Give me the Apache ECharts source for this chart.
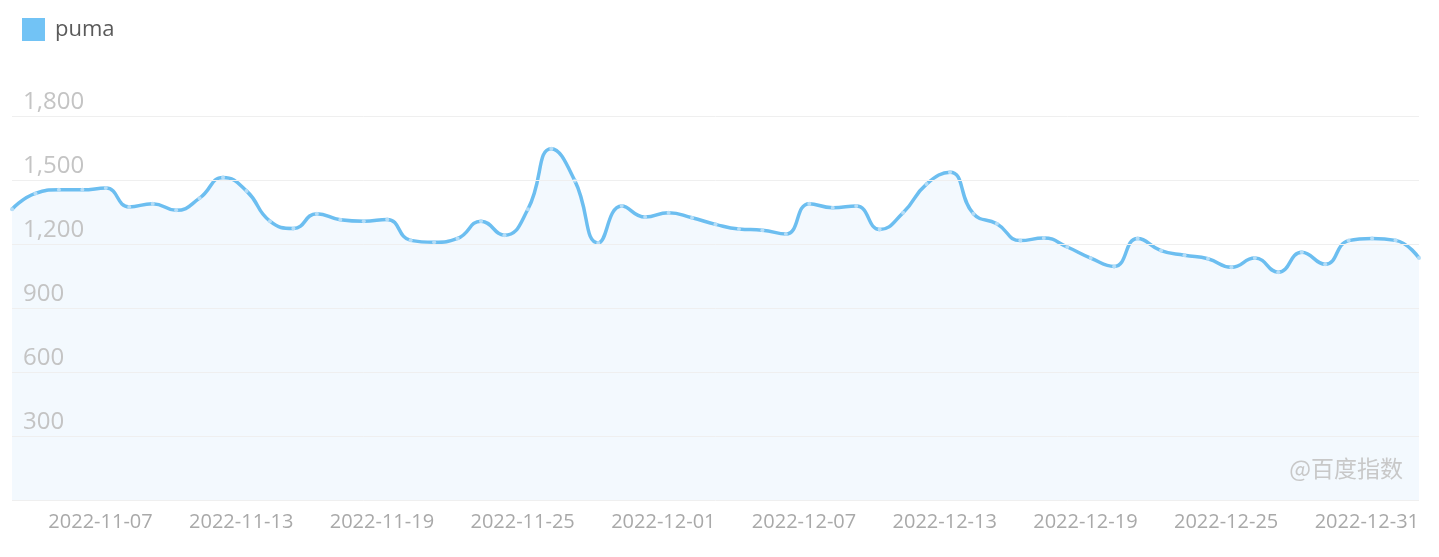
<!DOCTYPE html>
<html>
<head>
<meta charset="utf-8">
<script src="https://cdn.jsdelivr.net/npm/echarts@6/dist/echarts.min.js"></script>
<style>
html,body{margin:0;padding:0;background:#fff;}
#chart{width:1439px;height:557px;}
</style>
</head>
<body>
<div id="chart"></div>
<script>
// ---- data ----
const seriesName = 'puma';
const startDate = '2022-11-01';
const dayCount = 61;
const values = [
  1363, 1437, 1454, 1454, 1462, 1374, 1389, 1358, 1415, 1512,
  1449, 1307, 1273, 1342, 1314, 1307, 1315, 1217, 1208, 1226,
  1307, 1241, 1363, 1647, 1497, 1205, 1378, 1326, 1347, 1323,
  1292, 1270, 1265, 1247, 1389, 1370, 1378, 1268, 1347, 1481,
  1536, 1342, 1295, 1216, 1228, 1186, 1134, 1095, 1226, 1169,
  1147, 1131, 1091, 1134, 1068, 1161, 1105, 1216, 1226, 1217,
  1134
];
const yTicks = [0, 300, 600, 900, 1200, 1500, 1800];
const watermark = '@百度指数';

// build date categories
function pad(n){return n<10?'0'+n:''+n;}
const dates = [];
(function(){
  const d0 = new Date(startDate + 'T00:00:00Z');
  for (let i = 0; i < dayCount; i++) {
    const d = new Date(d0.getTime() + i*86400000);
    dates.push(d.getUTCFullYear()+'-'+pad(d.getUTCMonth()+1)+'-'+pad(d.getUTCDate()));
  }
})();

const chart = echarts.init(document.getElementById('chart'), null, {renderer:'canvas'});
const fontLatin = '"Open Sans","Noto Sans","Noto Sans CJK SC",sans-serif';
const showIdx = (i) => i > 0 && i % 6 === 0;

chart.setOption({
  animation: false,
  backgroundColor: '#ffffff',
  legend: {
    left: 22, top: 18, padding: 0,
    itemWidth: 23, itemHeight: 23, itemGap: 10,
    icon: 'rect',
    itemStyle: {borderWidth: 0, color: '#72c3f5'},
    textStyle: {fontSize: 22, color: '#5a5a5a', fontFamily: fontLatin, padding: [0, 0, 0, 5]},
    data: [seriesName]
  },
  grid: {left: 12, right: 20, top: 116, bottom: 57, containLabel: false},
  xAxis: {
    type: 'category',
    boundaryGap: false,
    data: dates,
    axisLine: {show: false},
    axisTick: {show: true, inside: true, length: 5, interval: (i) => showIdx(i), lineStyle: {color: '#ffffff', width: 2}},
    splitLine: {show: false},
    axisLabel: {
      interval: (i) => showIdx(i),
      align: 'right',
      margin: 12,
      fontSize: 20,
      color: '#a9a9a9',
      fontFamily: fontLatin
    }
  },
  yAxis: {
    type: 'value',
    min: yTicks[0], max: yTicks[yTicks.length-1], interval: 300,
    axisLine: {show: false},
    axisTick: {show: false},
    splitLine: {lineStyle: {color: '#efefef', width: 1}},
    axisLabel: {
      inside: true,
      showMinLabel: false,
      margin: 11,
      verticalAlign: 'bottom',
      padding: [0,0,2,0],
      fontSize: 24,
      color: '#c4c4c4',
      fontFamily: fontLatin,
      formatter: (v) => v.toLocaleString('en-US')
    },
    z: 3
  },
  graphic: [{
    type: 'text',
    right: 36, top: 457,
    style: {text: watermark, fontSize: 23, fill: '#c8c8c8', fontFamily: '"Noto Sans CJK SC","Noto Sans",sans-serif'},
    z: 10
  }],
  series: [{
    name: seriesName,
    type: 'line',
    data: values,
    smooth: true,
    symbol: 'circle',
    symbolSize: 4,
    showSymbol: true,
    itemStyle: {color: '#b5ddf7', borderWidth: 0},
    lineStyle: {color: '#6cbef0', width: 3.5},
    areaStyle: {color: '#f3f9fe', opacity: 1},
    z: 2
  }],
  color: ['#6cbef0']
});
</script>
</body>
</html>
